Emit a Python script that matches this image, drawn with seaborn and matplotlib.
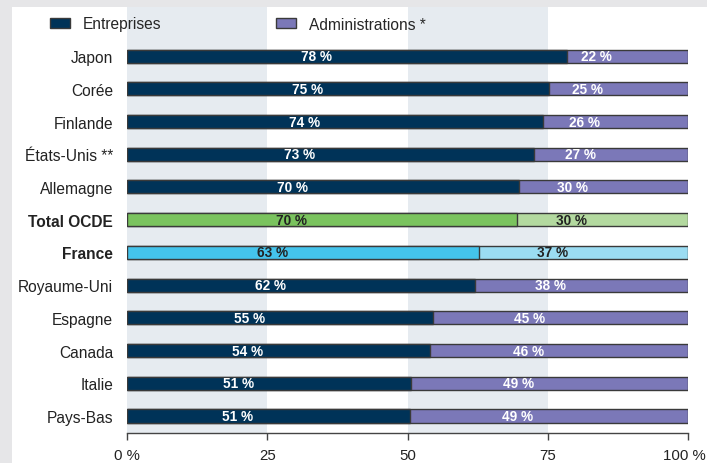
import matplotlib
matplotlib.use("Agg")
import matplotlib.pyplot as plt
from matplotlib.patches import Rectangle, Patch
from matplotlib import font_manager
import matplotlib.transforms as mtransforms
import seaborn as sns
import pandas as pd

countries = ["Japon", "Corée", "Finlande", "États-Unis **", "Allemagne", "Total OCDE",
             "France", "Royaume-Uni", "Espagne", "Canada", "Italie", "Pays-Bas"]
entreprises = [78.4, 75.3, 74.2, 72.6, 69.9, 69.6, 62.8, 62.0, 54.6, 54.0, 50.6, 50.4]
ent_labels = [78, 75, 74, 73, 70, 70, 63, 62, 55, 54, 51, 51]
adm_labels = [22, 25, 26, 27, 30, 30, 37, 38, 45, 46, 49, 49]
xticks = [0, 25, 50, 75, 100]
xtick_labels = ["0 %", "25", "50", "75", "100 %"]
series_names = ["Entreprises", "Administrations *"]

sns.set_theme(style="white")
names = {f.name for f in font_manager.fontManager.ttflist}
narrow = "Liberation Sans Narrow" in names
fam = "Liberation Sans Narrow" if narrow else "Liberation Sans"
plt.rcParams["font.family"] = [fam, "DejaVu Sans"]
FS = 12.5 if narrow else 11.2
LFS = 11.0 if narrow else 9.8

NAVY = "#003358"
PURPLE = "#7b78b8"
ent_colors = []
adm_colors = []
lab_colors = []
for c in countries:
    if c == "Total OCDE":
        ent_colors.append("#7ac35e"); adm_colors.append("#b3d99f"); lab_colors.append("#222222")
    elif c == "France":
        ent_colors.append("#44c4ec"); adm_colors.append("#9bdcf2"); lab_colors.append("#222222")
    else:
        ent_colors.append(NAVY); adm_colors.append(PURPLE); lab_colors.append("white")

df = pd.DataFrame({"pays": countries, "ent": entreprises, "total": [100] * len(countries)})

fig = plt.figure(figsize=(7.07, 4.64), dpi=100)
fig.patch.set_facecolor("#e6e6e8")
fig.patches.append(Rectangle((12 / 707, 0), 1 - 12 / 707, 1 - 8 / 464, transform=fig.transFigure,
                             facecolor="white", edgecolor="none", zorder=-10))
ax = fig.add_axes([127 / 707, 1 - 434 / 464, 561 / 707, 426 / 464])
ax.set_zorder(1)
ax.set_facecolor("none")

for lo, hi in [(0, 25), (50, 75)]:
    ax.axvspan(lo, hi, color="#e6ebf0", zorder=0, lw=0)

sns.barplot(data=df, x="total", y="pays", hue="pays", palette=adm_colors, legend=False,
            width=0.4, edgecolor="#3a3a3a", linewidth=1.0, ax=ax, zorder=2, orient="h",
            saturation=1)
sns.barplot(data=df, x="ent", y="pays", hue="pays", palette=ent_colors, legend=False,
            width=0.4, edgecolor="#3a3a3a", linewidth=1.0, ax=ax, zorder=3, orient="h",
            saturation=1)

for i, (e, le, la, col) in enumerate(zip(entreprises, ent_labels, adm_labels, lab_colors)):
    ax.text(e / 2 - 5.5, i, f"{le} %", ha="center", va="center", color=col,
            fontsize=LFS, fontweight="bold", zorder=5)
    ax.text((e + 100) / 2 - 5.5, i, f"{la} %", ha="center", va="center", color=col,
            fontsize=LFS, fontweight="bold", zorder=5)

ax.set_xlim(0, 100)
ax.set_ylim(11.52, -1.5)
ax.set_xlabel("")
ax.set_ylabel("")
ax.set_xticks(xticks)
ax.set_xticklabels(xtick_labels, fontsize=FS - 0.4, color="#222222")
ax.tick_params(axis="x", direction="out", length=5, width=1, color="#444444", pad=6, bottom=True)
ax.tick_params(axis="y", length=0, pad=10, labelsize=FS, labelcolor="#222222")
last = ax.get_xticklabels()[-1]
last.set_transform(last.get_transform() + mtransforms.ScaledTranslation(-4 / 100, 0, fig.dpi_scale_trans))
for lbl in ax.get_yticklabels():
    if lbl.get_text() in ("Total OCDE", "France"):
        lbl.set_fontweight("bold")
for s in ["top", "right", "left"]:
    ax.spines[s].set_visible(False)
ax.spines["bottom"].set_color("#444444")
ax.spines["bottom"].set_linewidth(1)

handles = [Patch(facecolor=NAVY, edgecolor="#3a3a3a", label=series_names[0]),
           Patch(facecolor=PURPLE, edgecolor="#3a3a3a", label=series_names[1])]
leg = fig.legend(handles=handles, loc="center left", bbox_to_anchor=(45 / 707, 1 - 25 / 464),
                 ncol=2, frameon=False, fontsize=FS, handlelength=1.3, handleheight=0.6,
                 columnspacing=7.4, handletextpad=0.8, borderaxespad=0, borderpad=0.3)

fig.savefig("out.png", dpi=100, facecolor=fig.get_facecolor())
